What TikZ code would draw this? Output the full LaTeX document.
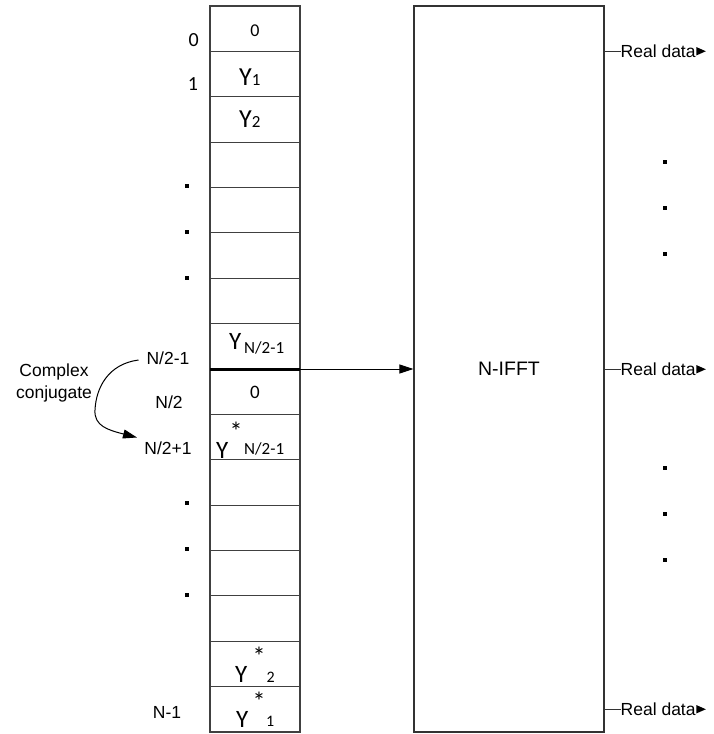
\documentclass[tikz,border=0pt]{standalone}
\usepackage{fontspec}
\setmainfont{Liberation Sans}
\newfontfamily\calfont{Carlito}
\usetikzlibrary{arrows.meta}
\newcommand{\fsz}[1]{\fontsize{#1}{#1}\selectfont}
\begin{document}
\begin{tikzpicture}[x=1pt,y=-1pt,
  cellbox/.style={draw=black!75, line width=1.2pt, minimum width=90pt, minimum height=45.375pt, inner sep=0pt, outer sep=0pt, anchor=north west},
  lab/.style={font=\fontsize{17.5}{21.5}\selectfont, inner sep=0pt},
  ct/.style={font=\calfont, inner sep=0pt},
  conn/.style={line width=1pt, draw=black},
  tip/.style={-{Triangle[length=14pt,width=9pt]}},
  dotsq/.style={fill=black}
]
\useasboundingbox (0,0) rectangle (713,734);

% column cells
\foreach \i in {0,...,15}{
  \node[cellbox] (c\i) at (210,{6+45.375*\i}) {};
}
\draw[line width=3pt] (c7.south west) -- (c7.south east);

% N-IFFT box
\node[draw=black!80, line width=1.2pt, minimum width=190pt, minimum height=726pt, inner sep=0pt] (ifft) at (509,369) {\fsz{19.5}N-IFFT};

% arrow column -> IFFT
\draw[conn,tip] (c7.south east) -- (c7.south east -| ifft.west);

% Real data outputs
\node[lab, anchor=base west] (rd1) at (620.5,57.5) {Real data};
\node[lab, anchor=base west] (rd2) at (620.5,375.5) {Real data};
\node[lab, anchor=base west] (rd3) at (620.5,715.5) {Real data};
\foreach \r in {rd1,rd2,rd3}{
  \draw[line width=0.9pt, black!80] (\r.west -| ifft.east) -- (\r.west);
  \fill (\r.east) ++(0.5,-4.2) -- ++(9.5,4.2) -- ++(-9.5,4.2) -- cycle;
}

% right dots
\foreach \y in {162,208,254,468,514,560}{
  \fill[dotsq] (665,\y) +(-2.2,-2.2) rectangle +(2.2,2.2);
}
% left dots
\foreach \y in {186,232,278,503,549,595}{
  \fill[dotsq] (186.7,\y) +(-2.2,-2.2) rectangle +(2.2,2.2);
}

% left index labels
\node[ct, anchor=base] (ln0) at (193.7,46.7) {\fsz{20}0};
\node[ct, anchor=base] (ln1) at (193,90.7) {\fsz{20}1};
\node[lab, anchor=base] (l1) at (168,364.5) {N/2-1};
\node[lab, anchor=base] (l2) at (169,408) {N/2};
\node[lab, anchor=base] (l3) at (168,454.5) {N/2+1};
\node[lab, anchor=base] (l4) at (167,718) {N-1};

% complex conjugate
\node[lab, align=center] (cc) at (54,383) {Complex\\conjugate};
\coordinate (cs) at (138.5,360);
\coordinate (ce) at (137,437.5);
\draw[conn,tip] (cs) .. controls (108,364) and (96,388) .. (95,410) .. controls (94,426) and (108,430) .. (ce);

% cell contents
\node[ct, anchor=center] (z0) at (255,30.5) {\fsz{18}0};
\node[ct, anchor=base west] (t1) at (239,85.5) {\fsz{26}Y\fsz{17}1};
\node[ct, anchor=base west] (t2) at (239,127) {\fsz{26}Y\fsz{17}2};
\node[ct, anchor=base west] (t7) at (229,349) {\fsz{25}Y};
\node[ct, anchor=base west] (t7s) at (244,353.5) {\fsz{17}N/2-1};
\node[ct, anchor=center] (z8) at (255,392.5) {\fsz{19}0};
\node[ct, anchor=base west] (t9) at (216,458.5) {\fsz{25}Y};
\node[ct, anchor=north] (t9a) at (236.2,421.7) {\fsz{26}*};
\node[ct, anchor=base west] (t9s) at (244,454) {\fsz{17}N/2-1};
\node[ct, anchor=base west] (t14) at (235,682.5) {\fsz{25}Y};
\node[ct, anchor=north] (t14a) at (259,647) {\fsz{26}*};
\node[ct, anchor=base west] (t14s) at (266.5,682.3) {\fsz{16}2};
\node[ct, anchor=base west] (t15) at (236,727.5) {\fsz{25}Y};
\node[ct, anchor=north] (t15a) at (259,691.7) {\fsz{26}*};
\node[ct, anchor=base west] (t15s) at (266,726.7) {\fsz{16}1};
\end{tikzpicture}
\end{document}
